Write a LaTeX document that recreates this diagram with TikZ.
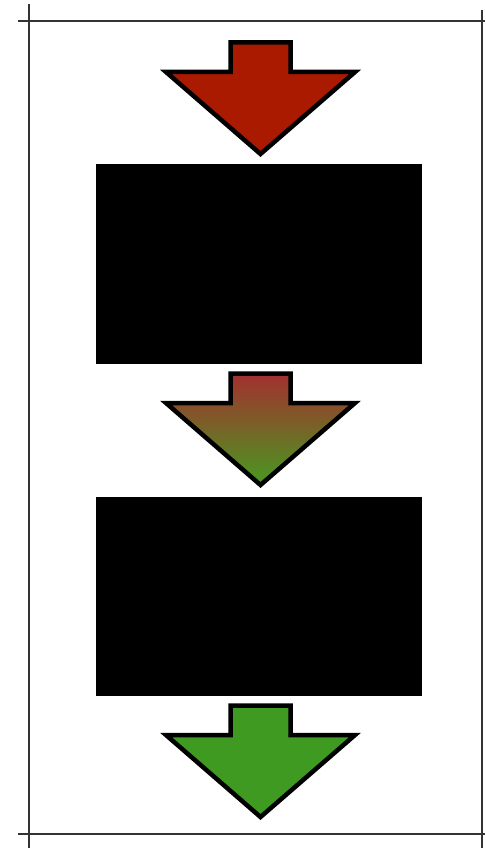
\documentclass[tikz,border=0pt]{standalone}
\definecolor{arrred}{HTML}{AA1A00}
\definecolor{arrgreen}{HTML}{3F9A22}
\definecolor{gradtop}{HTML}{A3302F}
\definecolor{gradbot}{HTML}{489A20}
\begin{document}
\begin{tikzpicture}[x=1pt,y=-1pt,
  arrowshape/.style={draw=black,line width=4.5pt,line join=miter},
  frameline/.style={draw=black!80,line width=1.3pt},
  blackbox/.style={fill=black}]
\useasboundingbox (0,0) rectangle (485,848);
% frame lines
\draw[frameline] (18,21) -- (485,21);
\draw[frameline] (18,834) -- (485,834);
\draw[frameline] (29,4) -- (29,848);
\draw[frameline] (482,10) -- (482,848);
% boxes
\fill[blackbox] (96,164) rectangle (422,364);
\fill[blackbox] (96,497) rectangle (422,696);
% arrow macro coordinates
\newcommand{\downarrowpath}[1]{%
  (230.5,42.5+#1) -- (290.5,42.5+#1) -- (290.5,72+#1) -- (355,72+#1) -- (260.5,154+#1) -- (166,72+#1) -- (230.5,72+#1) -- cycle}
\path[arrowshape,fill=arrred] \downarrowpath{0};
\path[arrowshape,top color=gradtop,bottom color=gradbot] \downarrowpath{331};
\path[arrowshape,fill=arrgreen] \downarrowpath{663};
\end{tikzpicture}
\end{document}
